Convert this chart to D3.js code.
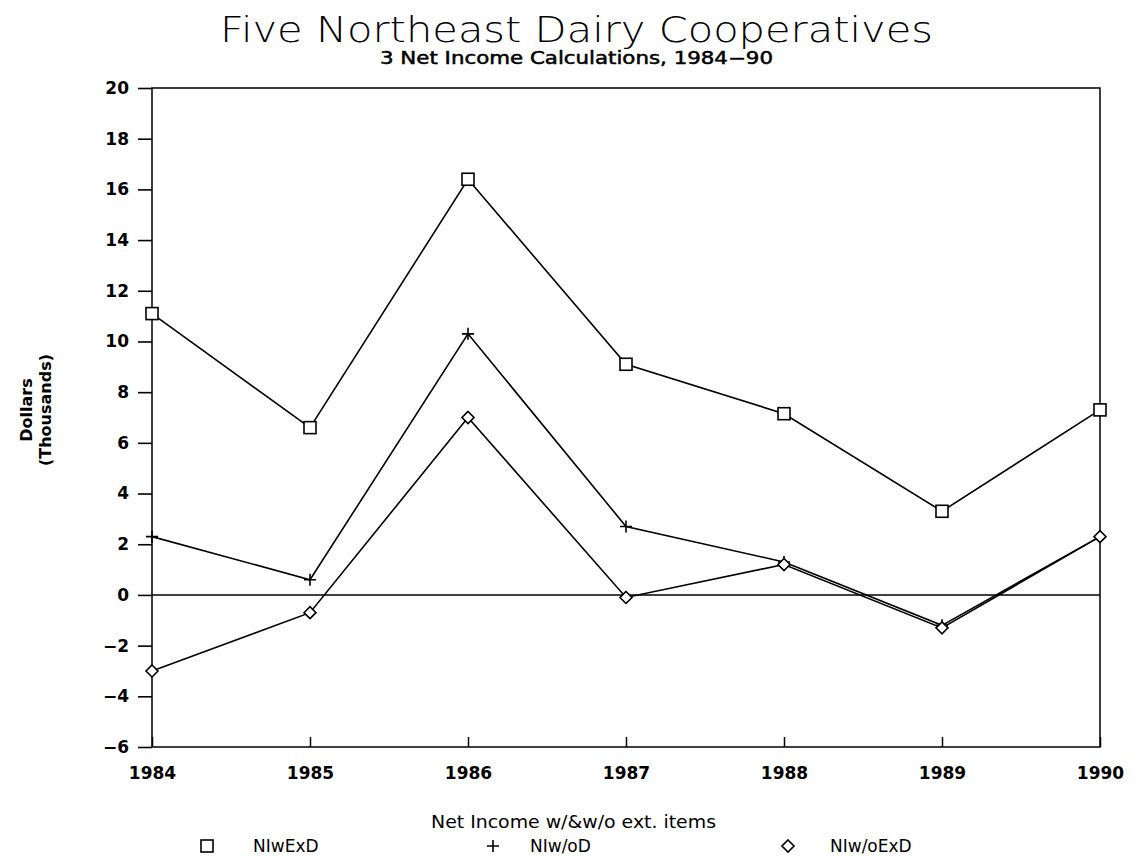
<!DOCTYPE html>
<html><head><meta charset="utf-8">
<script src="https://cdn.jsdelivr.net/npm/d3@7"></script>
<style>body{margin:0;background:#fff}svg{display:block}</style>
</head><body><svg id="c" width="1143" height="857"></svg>
<script>
const years = [1984, 1985, 1986, 1987, 1988, 1989, 1990];
const niwExD = [11.1, 6.6, 16.4, 9.1, 7.15, 3.3, 7.3];
const niwoD = [2.3, 0.6, 10.3, 2.7, 1.3, -1.2, 2.3];
const niwoExD = [-3.0, -0.7, 7.0, -0.1, 1.2, -1.3, 2.3];
const yTicks = [-6, -4, -2, 0, 2, 4, 6, 8, 10, 12, 14, 16, 18, 20];
const seriesNames = ["NIwExD", "NIw/oD", "NIw/oExD"];

const svg = d3.select("#c");
const L = 152, R = 1100, T = 88, B = 747;
const x = d3.scaleLinear().domain([1984, 1990]).range([L, R]);
const y = d3.scaleLinear().domain([-6, 20]).range([B, T]);
const font = "'DejaVu Sans', sans-serif";

// frame
svg.append("rect").attr("x", L).attr("y", T).attr("width", R - L).attr("height", B - T)
  .attr("fill", "none").attr("stroke", "#000").attr("stroke-width", 1.5);

// y axis
const ya = svg.append("g").attr("transform", `translate(${L},0)`)
  .call(d3.axisLeft(y).tickValues(yTicks).tickSize(14).tickPadding(9).tickFormat(d => d < 0 ? "\u2212" + Math.abs(d) : d));
ya.select(".domain").remove();
ya.selectAll("line").attr("stroke-width", 1.6);
ya.selectAll("text").attr("font-size", 17).attr("font-family", font).attr("font-weight", 700).attr("fill", "#000");

// x axis
const xa = svg.append("g").attr("transform", `translate(0,${B})`)
  .call(d3.axisBottom(x).tickValues(years).tickSize(-10).tickPadding(20).tickFormat(d3.format("d")));
xa.select(".domain").remove();
xa.selectAll("line").attr("stroke-width", 1.5);
xa.selectAll("text").attr("font-size", 17).attr("font-family", font).attr("font-weight", 700).attr("fill", "#000");

// zero line
svg.append("line").attr("x1", L).attr("x2", R).attr("y1", y(0)).attr("y2", y(0))
  .attr("stroke", "#000").attr("stroke-width", 1.5);

const line = d3.line().x((d, i) => x(years[i])).y(d => y(d));
const all = [niwExD, niwoD, niwoExD];
all.forEach(s => {
  svg.append("path").attr("d", line(s)).attr("fill", "none").attr("stroke", "#000").attr("stroke-width", 1.6);
});

function marker(g, type, cx, cy) {
  if (type === 0) {
    g.append("rect").attr("x", cx - 6).attr("y", cy - 6).attr("width", 12).attr("height", 12)
      .attr("fill", "#fff").attr("stroke", "#000").attr("stroke-width", 1.6);
  } else if (type === 1) {
    g.append("path").attr("d", `M${cx - 6},${cy}H${cx + 6}M${cx},${cy - 6}V${cy + 6}`)
      .attr("stroke", "#000").attr("stroke-width", 1.6);
  } else {
    g.append("path").attr("d", `M${cx},${cy - 6}L${cx + 6},${cy}L${cx},${cy + 6}L${cx - 6},${cy}Z`)
      .attr("fill", "#fff").attr("stroke", "#000").attr("stroke-width", 1.6);
  }
}
all.forEach((s, k) => {
  const g = svg.append("g");
  s.forEach((v, i) => marker(g, k, x(years[i]), y(v)));
});

// titles
svg.append("text").attr("x", 220).attr("y", 42)
  .attr("font-size", 35).attr("font-family", "'DejaVu Sans', sans-serif").attr("font-weight", 200)
  .attr("textLength", 713).attr("lengthAdjust", "spacingAndGlyphs")
  .text("Five Northeast Dairy Cooperatives");
svg.append("text").attr("x", 380).attr("y", 64)
  .attr("font-size", 17).attr("font-family", font).attr("font-weight", 400)
  .attr("stroke", "#000").attr("stroke-width", 0.5)
  .attr("textLength", 393).attr("lengthAdjust", "spacingAndGlyphs")
  .text("3 Net Income Calculations, 1984\u221290");

// y label
const yl = svg.append("text").attr("transform", "translate(32,410) rotate(-90)")
  .attr("text-anchor", "middle").attr("font-size", 16).attr("font-family", font).attr("font-weight", 700);
yl.append("tspan").attr("x", 0).attr("dy", 0).text("Dollars");
yl.append("tspan").attr("x", 0).attr("dy", 19).text("(Thousands)");

// legend
svg.append("text").attr("x", 431).attr("y", 828)
  .attr("font-size", 17).attr("font-family", font)
  .attr("textLength", 285).attr("lengthAdjust", "spacingAndGlyphs")
  .text("Net Income w/&w/o ext. items");
const legX = [207, 493, 788];
const legTX = [253, 530, 830];
seriesNames.forEach((n, k) => {
  const g = svg.append("g");
  marker(g, k, legX[k], 846);
  svg.append("text").attr("x", legTX[k]).attr("y", 852).attr("font-size", 17)
    .attr("font-family", font).text(n);
});
</script></body></html>
